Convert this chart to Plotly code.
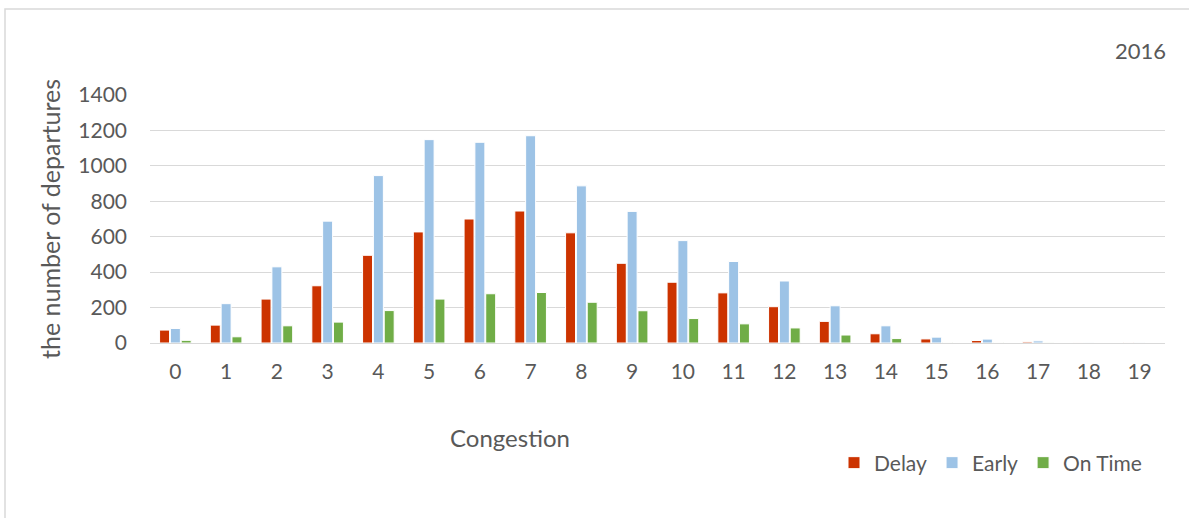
import plotly.graph_objects as go

categories = [str(i) for i in range(20)]
delay = [73, 101, 248, 323, 495, 627, 700, 745, 622, 450, 343, 283, 205, 122, 52, 23, 14, 6, 3, 3]
early = [82, 222, 430, 688, 945, 1148, 1133, 1170, 887, 743, 578, 460, 350, 210, 97, 33, 22, 12, 2, 1]
on_time = [15, 35, 97, 118, 183, 248, 278, 285, 230, 182, 138, 108, 85, 45, 25, 3, 3, 1, 0, 0]
y_ticks = [0, 200, 400, 600, 800, 1000, 1200, 1400]

W, H = 1189, 518
L, R, T, B = 150, 24, 95, 175
pw, ph = W - L - R, H - T - B

font_family = "Lato, 'Open Sans', sans-serif"
gray = "#595959"

fig = go.Figure()
fig.add_trace(go.Bar(name="Delay", x=categories, y=delay, marker=dict(color="#CC3300", line=dict(color="white", width=1))))
fig.add_trace(go.Bar(name="Early", x=categories, y=early, marker=dict(color="#9DC3E6", line=dict(color="white", width=1))))
fig.add_trace(go.Bar(name="On Time", x=categories, y=on_time, marker=dict(color="#70AD47", line=dict(color="white", width=1))))

fig.update_layout(
    width=W, height=H,
    margin=dict(l=L, r=R, t=T, b=B),
    paper_bgcolor="white", plot_bgcolor="white",
    barmode="group", bargap=0.36, bargroupgap=0.08,
    font=dict(family=font_family, color=gray, size=20),
    showlegend=True,
    legend=dict(orientation="h", x=(1147 - L) / pw, xanchor="right", y=(H - B - 463) / ph, yanchor="middle",
                font=dict(size=21, color=gray), traceorder="normal", itemwidth=30),
    xaxis=dict(type="category", showgrid=False, showline=False, ticks="",
               tickfont=dict(size=21, color=gray), ticklabelstandoff=14),
    yaxis=dict(range=[0, 1400], tickvals=y_ticks, showgrid=True, gridcolor="#D9D9D9", gridwidth=1,
               zeroline=True, zerolinecolor="#D9D9D9", zerolinewidth=1,
               tickfont=dict(size=21, color=gray), ticklabelstandoff=22,
               title=dict(text="the number of departures", font=dict(size=25, color=gray), standoff=10)),
    annotations=[
        dict(text="2016", xref="paper", yref="paper", x=(1168 - L) / pw, y=(H - B - 50) / ph,
             xanchor="right", yanchor="middle", showarrow=False,
             font=dict(size=22, color=gray)),
        dict(text="Congestion", xref="paper", yref="paper", x=(510 - L) / pw, y=(H - B - 437) / ph,
             xanchor="center", yanchor="middle", showarrow=False,
             font=dict(size=24, color=gray)),
    ],
    shapes=[dict(type="rect", xref="paper", yref="paper",
                 x0=(5 - L) / pw, x1=(W + 10 - L) / pw,
                 y0=(H - B - (H + 10)) / ph, y1=(H - B - 9) / ph,
                 line=dict(color="#D9D9D9", width=1.5), fillcolor="rgba(0,0,0,0)", layer="below")],
)

fig.write_html("out.html", config={"displayModeBar": False},
               post_script="document.body.style.margin='0';document.body.style.overflow='hidden';")
